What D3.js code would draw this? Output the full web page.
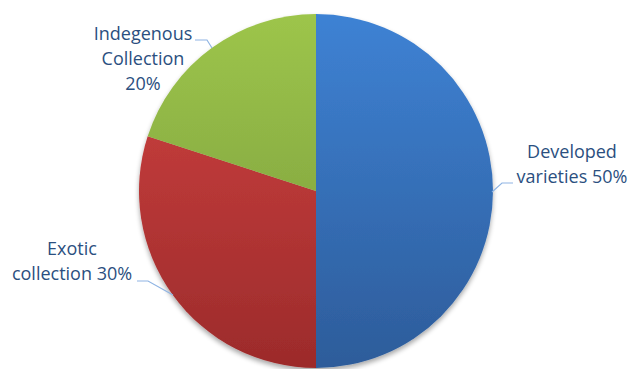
<!DOCTYPE html>
<html>
<head>
<meta charset="utf-8">
<script src="https://cdn.jsdelivr.net/npm/d3@7"></script>
<style>
  html, body { margin: 0; padding: 0; background: #fff; }
  svg { display: block; }
</style>
</head>
<body>
<svg id="chart" width="632" height="369"></svg>
<script>
// Germplasm composition
const categories = ["Developed varieties", "Exotic collection", "Indegenous Collection"];
const shares = [50, 30, 20];
const labelLines = [
  ["Developed", "varieties 50%"],
  ["Exotic", "collection 30%"],
  ["Indegenous", "Collection", "20%"]
];
const topColors = ["#3e82d4", "#d24342", "#9dc54b"];
const bottomColors = ["#2d5c9a", "#9c2b2b", "#76973a"];

const width = 632, height = 369;
const cx = 316, cy = 191, r = 177;

const svg = d3.select("#chart");
const defs = svg.append("defs");

// vertical gradient per slice, spanning the whole pie
categories.forEach((c, i) => {
  const gr = defs.append("linearGradient")
    .attr("id", "grad" + i)
    .attr("gradientUnits", "userSpaceOnUse")
    .attr("x1", 0).attr("y1", -r).attr("x2", 0).attr("y2", r);
  gr.append("stop").attr("offset", "0%").attr("stop-color", topColors[i]);
  gr.append("stop").attr("offset", "100%").attr("stop-color", bottomColors[i]);
});

// soft drop shadow under the pie
const shadow = defs.append("filter").attr("id", "shadow")
  .attr("x", "-10%").attr("y", "-10%").attr("width", "120%").attr("height", "125%");
shadow.append("feGaussianBlur").attr("in", "SourceAlpha").attr("stdDeviation", 2.5);
shadow.append("feOffset").attr("dx", 0).attr("dy", 3).attr("result", "b");
shadow.append("feComponentTransfer").append("feFuncA").attr("type", "linear").attr("slope", 0.35);
const merge = shadow.append("feMerge");
merge.append("feMergeNode");
merge.append("feMergeNode").attr("in", "SourceGraphic");

const pie = d3.pie().sort(null).value(d => d);
const arcs = pie(shares);
const arc = d3.arc().innerRadius(0).outerRadius(r);

const g = svg.append("g").attr("transform", `translate(${cx},${cy})`);

g.append("g").attr("filter", "url(#shadow)")
  .selectAll("path")
  .data(arcs)
  .join("path")
  .attr("d", arc)
  .attr("fill", (d, i) => `url(#grad${i})`);

// label anchors (text centre, first baseline) relative to pie centre
const labelPos = [
  { x: 572 - cx, y: 158 - cy },
  { x: 72 - cx, y: 255 - cy },
  { x: 143 - cx, y: 40 - cy }
];

// leader lines: from slice edge to label
const leaders = [
  [[176, 1], [186, -8], [197, -8]],
  [[-143, 104], [-168, 90], [-179, 90]],
  [[-104, -143], [-109, -151], [-121, -151]]
];

g.selectAll("polyline.leader")
  .data(leaders)
  .join("polyline")
  .attr("class", "leader")
  .attr("points", d => d.map(p => p.join(",")).join(" "))
  .attr("fill", "none")
  .attr("stroke", "#8fb4e3")
  .attr("stroke-width", 1.2);

const lineH = 25;
labelLines.forEach((lines, i) => {
  const t = g.append("text")
    .attr("x", labelPos[i].x)
    .attr("y", labelPos[i].y)
    .attr("text-anchor", "middle")
    .attr("font-family", "'Open Sans', 'Liberation Sans', sans-serif")
    .attr("font-size", 18)
    .attr("fill", "#2b4f80");
  lines.forEach((ln, k) => {
    t.append("tspan").attr("x", labelPos[i].x).attr("dy", k === 0 ? 0 : lineH).text(ln);
  });
});
</script>
</body>
</html>
